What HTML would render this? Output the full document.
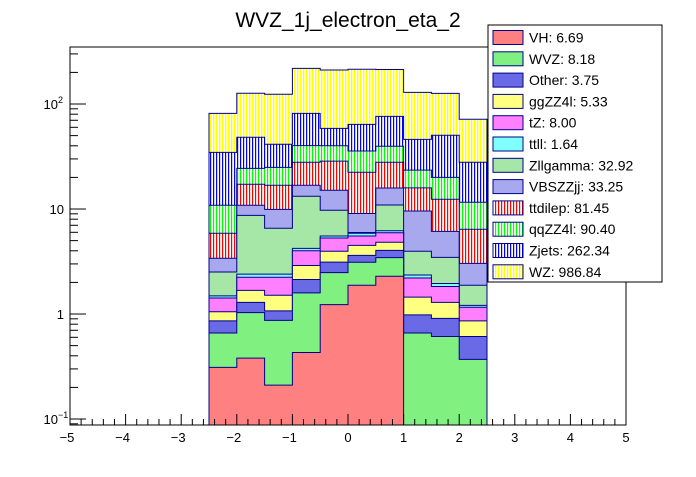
<!DOCTYPE html>
<html><head><meta charset="utf-8"><style>
body{margin:0;background:#fff;}
svg text{font-family:"Liberation Sans",sans-serif;}
</style></head><body>
<svg id="c" width="696" height="472" xmlns="http://www.w3.org/2000/svg">
<defs>
<pattern id="vl-red" width="3" height="4" patternUnits="userSpaceOnUse"><rect width="3" height="4" fill="#fff"/><rect width="1.2" height="4" fill="#f00"/></pattern>
<pattern id="vl-green" width="3" height="4" patternUnits="userSpaceOnUse"><rect width="3" height="4" fill="#fff"/><rect width="1.2" height="4" fill="#0f0"/></pattern>
<pattern id="vl-blue" width="3" height="4" patternUnits="userSpaceOnUse"><rect width="3" height="4" fill="#fff"/><rect width="1.2" height="4" fill="#00f"/></pattern>
<pattern id="vl-yellow" width="3" height="4" patternUnits="userSpaceOnUse"><rect width="3" height="4" fill="#fff"/><rect width="1.4" height="4" fill="#ff0"/></pattern>
</defs>
<text x="348" y="27" font-size="21" text-anchor="middle">WVZ_1j_electron_eta_2</text>
<g id="stack"></g>
<rect x="70" y="47" width="556" height="378" fill="none" stroke="#000" stroke-width="1"/>
<g id="axes"></g>
<g id="legend"></g>
</svg>
<script>
const binEdges = [-2.5,-2.0,-1.5,-1.0,-0.5,0.0,0.5,1.0,1.5,2.0,2.5];
const seriesNames = ["VH","WVZ","Other","ggZZ4l","tZ","ttll","Zllgamma","VBSZZjj","ttdilep","qqZZ4l","Zjets","WZ"];
const seriesTotals = ["6.69","8.18","3.75","5.33","8.00","1.64","32.92","33.25","81.45","90.40","262.34","986.84"];
const vhVals     = [0.31,0.38,0.21,0.43,1.23,1.88,2.29,0,0,0];
const wvzVals    = [0.35,0.65,0.66,1.16,1.25,1.23,1.15,0.66,0.61,0.37];
const otherVals  = [0.20,0.26,0.20,0.54,0.64,0.51,0.60,0.32,0.30,0.24];
const ggzzVals   = [0.19,0.39,0.44,0.77,0.84,0.89,0.78,0.47,0.38,0.25];
const tzVals     = [0.37,0.56,0.73,1.10,1.34,1.02,1.12,0.75,0.54,0.30];
const ttllVals   = [0.07,0.16,0.16,0.22,0.24,0.34,0.27,0.15,0.12,0.05];
const zllgVals   = [1.02,6.31,4.15,9.0,4.2,0.1,4.7,1.61,1.51,0.67];
const vbsVals    = [0.89,2.14,3.38,3.6,5.35,3.1,4.95,5.62,2.66,1.16];
const ttdilepVals= [2.48,6.35,6.9,11.1,13.5,13.3,12.0,6.3,6.27,3.37];
const qqzzVals   = [4.98,7.2,8.1,12.2,11.5,13.3,11.7,7.6,7.6,5.2];
const zjetsVals  = [23.8,23.8,16.4,41.4,18.6,28.4,36.8,22.6,30.4,16.3];
const wzVals     = [46.8,78.3,82.4,137,152,150,137,83,76,43.7];
const xTicks = [-5,-4,-3,-2,-1,0,1,2,3,4,5];
const yTickVals = [0.1,1,10,100];
const yTickLabels = ["10","1","10","10"];
const yTickExps = ["\u22121","","","2"];

const allVals=[vhVals,wvzVals,otherVals,ggzzVals,tzVals,ttllVals,zllgVals,vbsVals,ttdilepVals,qqzzVals,zjetsVals,wzVals];
const fills=["#ff8080","#80f080","#6a6ae6","#ffff80","#ff80ff","#80ffff","#a6e6a6","#a8a8ee","url(#vl-red)","url(#vl-green)","url(#vl-blue)","url(#vl-yellow)"];
const NS="http://www.w3.org/2000/svg";
const X0=70,X1=626,Y0=47,Y1=425;
const xMin=-5,xMax=5;
const yMinL=-1.057,yMaxL=2.543;
function xs(v){return X0+(v-xMin)/(xMax-xMin)*(X1-X0);}
function ys(v){if(v<=0)return Y1;const l=Math.log10(v);return Math.max(Y0,Math.min(Y1,Y1-(l-yMinL)/(yMaxL-yMinL)*(Y1-Y0)));}
function mk(tag,attrs,parent){const e=document.createElementNS(NS,tag);for(const k in attrs)e.setAttribute(k,attrs[k]);parent.appendChild(e);return e;}

const stackG=document.getElementById('stack');
const nb=binEdges.length-1;
const cum=new Array(nb).fill(0);
const tops=[];
for(let s=0;s<allVals.length;s++){const t=[];for(let b=0;b<nb;b++){cum[b]+=allVals[s][b];t.push(cum[b]);}tops.push(t);}
for(let s=allVals.length-1;s>=0;s--){
  let d="M"+xs(binEdges[0])+","+Y1;
  for(let b=0;b<nb;b++){const y=ys(tops[s][b]);d+=" L"+xs(binEdges[b])+","+y+" L"+xs(binEdges[b+1])+","+y;}
  d+=" L"+xs(binEdges[nb])+","+Y1+" Z";
  const p=mk('path',{d:d,fill:fills[s],stroke:"#00008b","stroke-width":"1"},stackG);
  
  
}

const ax=document.getElementById('axes');
for(let v=-5;v<=5.001;v+=0.2){
  const x=xs(v);const major=Math.abs(v-Math.round(v))<1e-6;
  const t=mk('line',{x1:x,x2:x,y1:Y1,y2:Y1-(major?11:6),stroke:"#000"},ax);
  
  
}
xTicks.forEach(v=>{
  const t=mk('text',{x:xs(v)-(v<0?3:0),y:442,"font-size":"13","text-anchor":"middle"},ax);
  t.textContent=(v<0?"\u2212":"")+Math.abs(v);
  
  
});
for(let e=-2;e<=2;e++){
  for(let m=1;m<10;m++){
    const v=m*Math.pow(10,e);const l=Math.log10(v);
    if(l<yMinL||l>yMaxL)continue;
    const y=ys(v);
    const t=mk('line',{x1:X0,x2:X0+(m==1?16:8),y1:y,y2:y,stroke:"#000"},ax);
    
    
  }
}
yTickVals.forEach((v,i)=>{
  const y=ys(v);
  const t=mk('text',{x:yTickExps[i]?58:64,y:y+5,"font-size":"13","text-anchor":"end"},ax);
  t.textContent=yTickLabels[i];
  
  
  if(yTickExps[i]){
    const s=mk('text',{x:58,y:y-1,"font-size":"9","text-anchor":"start"},ax);
    s.textContent=yTickExps[i];
    
    
  }
});

const lg=document.getElementById('legend');
const lb=mk('rect',{x:488,y:25,width:174,height:257,fill:"#fff",stroke:"#000"},lg);


seriesNames.forEach((n,i)=>{
  const cy=37.5+i*21.3;
  const r=mk('rect',{x:493,y:cy-7,width:30,height:14,fill:fills[i],stroke:"#00008b"},lg);
  
  
  const t=mk('text',{x:529,y:cy+5,"font-size":"14"},lg);
  t.textContent=n+": "+seriesTotals[i];
  
  
});
</script>
</body></html>
